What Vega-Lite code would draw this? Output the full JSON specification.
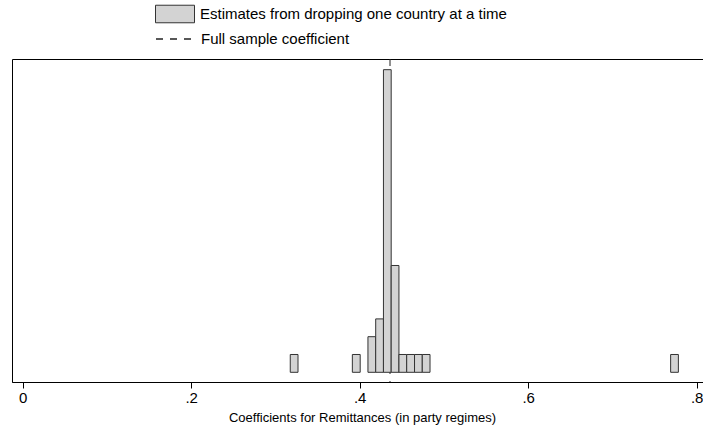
{
  "$schema": "https://vega.github.io/schema/vega-lite/v6.json",
  "width": 700,
  "height": 323,
  "autosize": {"type": "none"},
  "padding": {"left": 12, "top": 59, "right": 0, "bottom": 53},
  "background": "white",
  "config": {"view": {"stroke": "#000", "strokeWidth": 1}, "font": "Liberation Sans"},
  "datasets": {
    "bins": [
      {"bin_start": 0.3176, "bin_end": 0.3268, "count": 1},
      {"bin_start": 0.3913, "bin_end": 0.4006, "count": 1},
      {"bin_start": 0.4098, "bin_end": 0.4190, "count": 2},
      {"bin_start": 0.4190, "bin_end": 0.4282, "count": 3},
      {"bin_start": 0.4282, "bin_end": 0.4374, "count": 17},
      {"bin_start": 0.4374, "bin_end": 0.4466, "count": 6},
      {"bin_start": 0.4466, "bin_end": 0.4558, "count": 1},
      {"bin_start": 0.4558, "bin_end": 0.4651, "count": 1},
      {"bin_start": 0.4651, "bin_end": 0.4743, "count": 1},
      {"bin_start": 0.4743, "bin_end": 0.4835, "count": 1},
      {"bin_start": 0.7691, "bin_end": 0.7783, "count": 1}
    ],
    "coef": [{"value": 0.436}]
  },
  "layer": [
    {
      "data": {"name": "coef"},
      "mark": {"type": "rule", "color": "#222", "strokeWidth": 1},
      "encoding": {
        "x": {
          "field": "value", "type": "quantitative",
          "scale": {"domain": [-0.0127, 0.8182], "nice": false, "zero": false},
          "axis": {
            "values": [0, 0.2, 0.4, 0.6, 0.8],
            "labelExpr": "datum.value == 0 ? '0' : '.' + format(datum.value*10, 'd')",
            "grid": false, "domainColor": "#000", "tickColor": "#000", "tickSize": 6,
            "labelFontSize": 15, "labelColor": "#000", "labelPadding": 2, "labelFlush": false,
            "title": "Coefficients for Remittances (in party regimes)",
            "titleFontSize": 13, "titleFontWeight": "normal", "titleColor": "#000", "titlePadding": 6
          }
        },
        "strokeDash": {
          "datum": "Full sample coefficient",
          "scale": {"range": [[7, 7]]},
          "legend": {
            "orient": "none", "legendX": 143, "legendY": -40.5, "title": null,
            "symbolType": "stroke", "symbolSize": 1521, "symbolStrokeColor": "#222", "symbolStrokeWidth": 1.3,
            "symbolOpacity": 1,
            "labelFontSize": 15, "labelOffset": 5, "labelLimit": 600, "labelColor": "#000"
          }
        }
      }
    },
    {
      "data": {"name": "bins"},
      "mark": {"type": "bar", "stroke": "#333", "strokeWidth": 1},
      "encoding": {
        "x": {
          "field": "bin_start", "type": "quantitative",
          "axis": {
            "values": [0, 0.2, 0.4, 0.6, 0.8],
            "labelExpr": "datum.value == 0 ? '0' : '.' + format(datum.value*10, 'd')",
            "grid": false, "domainColor": "#000", "tickColor": "#000", "tickSize": 6,
            "labelFontSize": 15, "labelColor": "#000", "labelPadding": 2, "labelFlush": false,
            "title": "Coefficients for Remittances (in party regimes)",
            "titleFontSize": 13, "titleFontWeight": "normal", "titleColor": "#000", "titlePadding": 6
          }
        },
        "x2": {"field": "bin_end"},
        "y": {
          "field": "count", "type": "quantitative",
          "scale": {"domain": [-0.545, 17.6], "nice": false, "zero": false},
          "axis": null
        },
        "y2": {"datum": 0},
        "fill": {
          "datum": "Estimates from dropping one country at a time",
          "scale": {"range": ["#d3d3d3"]},
          "legend": {
            "orient": "none", "legendX": 143, "legendY": -65, "title": null,
            "symbolType": "M-1,-0.45H1V0.45H-1Z", "symbolSize": 1521,
            "symbolStrokeColor": "#333", "symbolStrokeWidth": 1, "symbolOpacity": 1,
            "labelFontSize": 15, "labelOffset": 5, "labelLimit": 600, "labelColor": "#000"
          }
        }
      }
    }
  ]
}
